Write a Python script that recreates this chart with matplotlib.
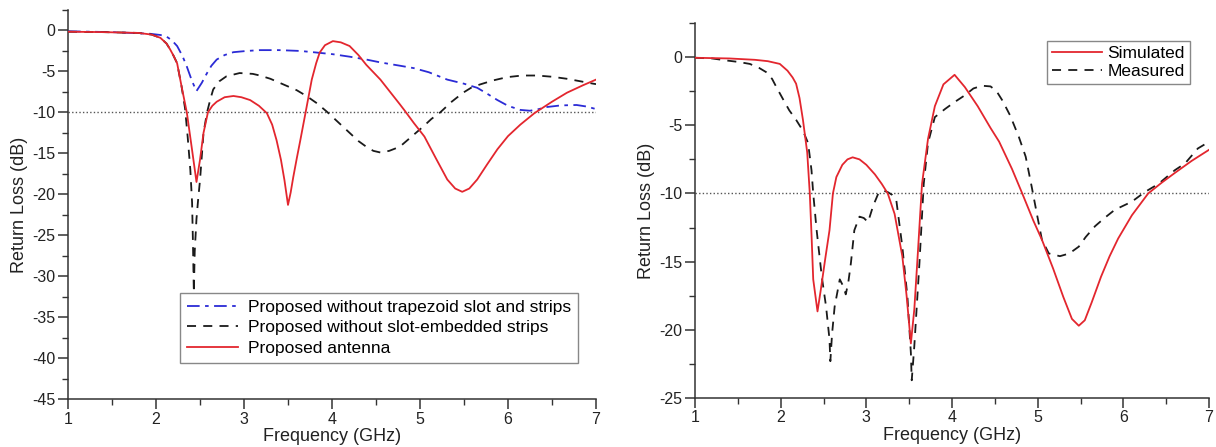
import matplotlib
matplotlib.use("Agg")
import matplotlib.pyplot as plt
from matplotlib.ticker import MultipleLocator

plt.rcParams['font.family'] = ['Liberation Sans', 'DejaVu Sans']
plt.rcParams['axes.unicode_minus'] = False

# ---- Left panel: parametric study ----
f_base = [1.0, 1.5, 1.93, 2.05, 2.12, 2.18, 2.24, 2.30, 2.35, 2.41, 2.46, 2.52, 2.58, 2.63,
          2.69, 2.78, 2.88, 3.03, 3.18, 3.40, 3.64, 3.83, 4.01, 4.20, 4.39, 4.55, 4.77, 4.93,
          5.10, 5.31, 5.50, 5.65, 5.76, 5.88, 6.00, 6.14, 6.25, 6.35, 6.44, 6.60, 6.78, 6.90, 7.0]
rl_base = [-0.1, -0.2, -0.4, -0.55, -0.75, -1.2, -1.9, -3.1, -4.4, -6.2, -7.4, -6.4, -5.2, -4.3,
           -3.55, -3.0, -2.65, -2.5, -2.4, -2.4, -2.5, -2.7, -2.9, -3.2, -3.55, -3.9, -4.3, -4.6,
           -5.1, -6.0, -6.5, -7.0, -7.7, -8.5, -9.2, -9.7, -9.8, -9.6, -9.35, -9.15, -9.1, -9.3, -9.6]

f_noslot = [1.0, 1.4, 1.8, 1.95, 2.05, 2.12, 2.16, 2.20, 2.24, 2.29, 2.33, 2.36, 2.39, 2.41,
            2.42, 2.43, 2.44, 2.46, 2.48, 2.50, 2.54, 2.58, 2.62, 2.65, 2.72, 2.80, 2.95, 3.10,
            3.18, 3.30, 3.45, 3.60, 3.71, 3.83, 3.94, 4.07, 4.20, 4.30, 4.39, 4.47, 4.55, 4.65,
            4.77, 4.90, 5.04, 5.13, 5.23, 5.36, 5.49, 5.58, 5.68, 5.83, 5.99, 6.16, 6.33, 6.50,
            6.67, 6.82, 6.97, 7.0]
rl_noslot = [-0.15, -0.2, -0.3, -0.5, -0.9, -1.6, -2.3, -3.1, -4.0, -6.8, -9.5, -13.0, -17.0, -21.0,
             -26.0, -32.0, -27.0, -23.0, -20.5, -18.3, -12.5, -10.0, -8.3, -7.2, -6.2, -5.6, -5.2, -5.3,
             -5.5, -5.9, -6.6, -7.3, -8.0, -8.9, -9.9, -11.2, -12.5, -13.5, -14.2, -14.7, -14.9, -14.7,
             -14.2, -13.0, -11.7, -10.8, -10.0, -8.7, -7.6, -7.0, -6.6, -6.1, -5.7, -5.5, -5.5, -5.65,
             -5.9, -6.2, -6.5, -6.55]

f_prop = [1.0, 1.4, 1.8, 1.95, 2.05, 2.12, 2.16, 2.20, 2.24, 2.29, 2.35, 2.41, 2.46, 2.50, 2.54,
          2.59, 2.64, 2.69, 2.78, 2.88, 2.97, 3.07, 3.17, 3.26, 3.32, 3.37, 3.42, 3.46, 3.50, 3.53,
          3.56, 3.60, 3.64, 3.70, 3.77, 3.82, 3.86, 3.92, 4.01, 4.10, 4.20, 4.30, 4.39, 4.55, 4.77,
          4.82, 4.93, 5.05, 5.18, 5.31, 5.40, 5.48, 5.56, 5.65, 5.76, 5.88, 6.00, 6.14, 6.30, 6.50,
          6.67, 6.85, 7.0]
rl_prop = [-0.15, -0.2, -0.3, -0.5, -0.9, -1.6, -2.3, -3.1, -4.0, -6.8, -10.0, -14.6, -18.5, -15.8, -12.5,
           -10.0, -9.2, -8.7, -8.15, -8.0, -8.15, -8.5, -9.2, -10.1, -11.5, -13.4, -15.8, -18.3, -21.3, -19.8,
           -17.9, -15.6, -13.4, -10.0, -6.0, -4.0, -2.7, -1.8, -1.3, -1.45, -1.9, -3.0, -4.2, -6.0, -9.0,
           -9.7, -11.3, -12.95, -15.6, -18.2, -19.3, -19.7, -19.3, -18.2, -16.4, -14.5, -12.9, -11.5, -10.1, -8.7,
           -7.6, -6.7, -6.0]

# ---- Right panel: simulated vs measured ----
f_sim = [1.0, 1.4, 1.7, 1.85, 1.99, 2.08, 2.14, 2.18, 2.22, 2.26, 2.31, 2.34, 2.36, 2.38, 2.43,
         2.47, 2.52, 2.57, 2.61, 2.65, 2.72, 2.78, 2.84, 2.92, 3.00, 3.10, 3.18, 3.25, 3.33, 3.42,
         3.47, 3.52, 3.56, 3.60, 3.65, 3.72, 3.80, 3.90, 4.03, 4.15, 4.30, 4.45, 4.55, 4.70, 4.82,
         4.95, 5.05, 5.18, 5.30, 5.40, 5.48, 5.55, 5.63, 5.74, 5.84, 5.94, 6.10, 6.29, 6.45, 6.60,
         6.80, 7.0]
rl_sim = [-0.05, -0.1, -0.2, -0.3, -0.5, -1.0, -1.5, -1.95, -3.0, -4.6, -7.0, -10.0, -13.0, -16.3, -18.65,
          -17.0, -14.8, -12.7, -10.0, -8.8, -7.9, -7.5, -7.35, -7.5, -7.9, -8.6, -9.3, -10.0, -11.5, -14.6,
          -17.5, -21.0, -18.5, -14.5, -9.3, -6.0, -3.6, -2.0, -1.3, -2.2, -3.6, -5.2, -6.2, -8.2, -10.0,
          -12.0, -13.4, -15.5, -17.6, -19.2, -19.7, -19.3, -18.0, -16.1, -14.6, -13.3, -11.6, -10.0, -9.2, -8.5,
          -7.6, -6.8]

f_meas = [1.0, 1.2, 1.37, 1.5, 1.64, 1.75, 1.83, 1.90, 1.95, 2.02, 2.10, 2.18, 2.26, 2.32, 2.36,
          2.38, 2.42, 2.48, 2.53, 2.57, 2.58, 2.60, 2.63, 2.69, 2.73, 2.76, 2.79, 2.82, 2.86, 2.92,
          2.97, 3.02, 3.08, 3.14, 3.20, 3.25, 3.30, 3.35, 3.42, 3.48, 3.52, 3.53, 3.56, 3.62, 3.67,
          3.72, 3.80, 3.92, 4.03, 4.15, 4.25, 4.35, 4.45, 4.52, 4.59, 4.68, 4.78, 4.86, 4.93, 5.00,
          5.05, 5.13, 5.26, 5.37, 5.48, 5.56, 5.67, 5.78, 5.90, 6.00, 6.10, 6.25, 6.41, 6.60, 6.72,
          6.87, 6.95]
rl_meas = [-0.05, -0.1, -0.25, -0.35, -0.5, -0.8, -1.1, -1.6, -2.2, -3.0, -3.9, -4.6, -5.4, -6.3, -8.3,
           -10.0, -12.7, -16.1, -18.3, -20.7, -22.3, -20.3, -18.3, -16.3, -16.8, -17.4, -16.5, -15.1, -12.7, -11.7,
           -11.8, -12.1, -10.9, -10.0, -9.8, -9.9, -10.1, -10.5, -13.9, -17.6, -21.7, -23.7, -21.2, -15.1, -9.3,
           -6.3, -4.4, -3.8, -3.3, -2.8, -2.3, -2.1, -2.15, -2.5, -3.2, -4.3, -5.85, -7.3, -9.5, -11.8,
           -13.4, -14.4, -14.6, -14.4, -13.9, -13.2, -12.4, -11.8, -11.2, -10.9, -10.6, -9.9, -9.3, -8.3, -7.8,
           -6.7, -6.4]

RED = '#e3262e'
BLUE = '#2b2bd6'
BLACK = '#1a1a1a'

W, H = 1216, 447
fig = plt.figure(figsize=(W / 100, H / 100), dpi=100)

def px_axes(x0, x1, ytop, ybot):
    return fig.add_axes([x0 / W, 1 - ybot / H, (x1 - x0) / W, (ybot - ytop) / H])

ax1 = px_axes(68, 596, 10, 399)
ax2 = px_axes(695, 1209, 23, 398)

def style(ax, ymin, ymax, ymajor):
    ax.set_xlim(1, 7)
    ax.set_ylim(ymin, ymax)
    ax.xaxis.set_major_locator(MultipleLocator(1))
    ax.xaxis.set_minor_locator(MultipleLocator(0.5))
    ax.yaxis.set_major_locator(MultipleLocator(ymajor))
    ax.yaxis.set_minor_locator(MultipleLocator(ymajor / 2))
    for s in ('top', 'right'):
        ax.spines[s].set_visible(False)
    for s in ('left', 'bottom'):
        ax.spines[s].set_color('#333333')
        ax.spines[s].set_linewidth(1.1)
    ax.tick_params(which='major', direction='out', length=7, width=1.1, colors='#333333',
                   labelsize=11.5, labelcolor='#222222', pad=2)
    ax.tick_params(which='minor', direction='out', length=4, width=1.0, colors='#333333')
    ax.axhline(-10, color='#555555', lw=1.0, ls=(0, (1, 1.6)), zorder=1)
    ax.set_xlabel('Frequency (GHz)', fontsize=13, color='#222222', labelpad=1)
    ax.set_ylabel('Return Loss (dB)', fontsize=13, color='#222222', labelpad=3)

style(ax1, -45, 2.5, 5)
style(ax2, -25, 2.5, 5)

ax1.plot(f_base, rl_base, color=BLUE, lw=1.3, ls=(0, (7, 3, 2, 3)),
         label='Proposed without trapezoid slot and strips', zorder=3)
ax1.plot(f_noslot, rl_noslot, color=BLACK, lw=1.3, ls=(0, (5, 4)),
         label='Proposed without slot-embedded strips', zorder=3)
ax1.plot(f_prop, rl_prop, color=RED, lw=1.3, label='Proposed antenna', zorder=4)

leg1 = ax1.legend(loc='lower right', bbox_to_anchor=(0.966, 0.0925), borderaxespad=0,
                  fontsize=12.5, frameon=True, fancybox=False, edgecolor='#888888', framealpha=1,
                  handlelength=2.9, handletextpad=0.6, labelspacing=0.32, borderpad=0.4)
leg1.get_frame().set_linewidth(1.0)
leg1.set_zorder(10)

ax2.plot(f_sim, rl_sim, color=RED, lw=1.3, label='Simulated', zorder=4)
ax2.plot(f_meas, rl_meas, color=BLACK, lw=1.3, ls=(0, (5, 4)), label='Measured', zorder=3)

leg2 = ax2.legend(loc='upper right', bbox_to_anchor=(0.963, 0.952), borderaxespad=0,
                  fontsize=12.5, frameon=True, fancybox=False, edgecolor='#888888', framealpha=1,
                  handlelength=2.9, handletextpad=0.3, labelspacing=0.15, borderpad=0.3)
leg2.get_frame().set_linewidth(1.0)

fig.savefig('out.png', dpi=100)
